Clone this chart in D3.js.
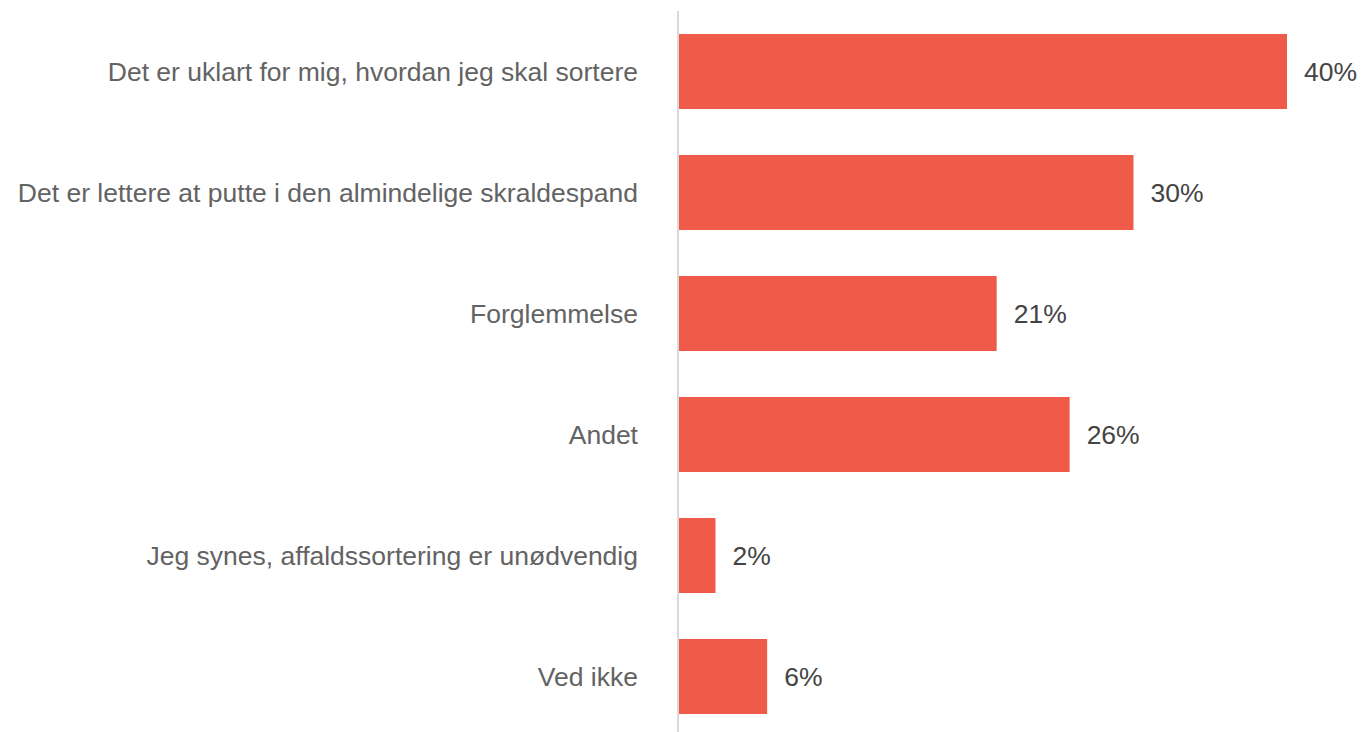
<!DOCTYPE html>
<html>
<head>
<meta charset="utf-8">
<script src="https://cdn.jsdelivr.net/npm/d3@7"></script>
<style>
  html, body { margin: 0; padding: 0; background: #ffffff; }
  svg { display: block; }
</style>
</head>
<body>
<svg id="chart" width="1362" height="732"></svg>
<script>
const categories = [
  "Det er uklart for mig, hvordan jeg skal sortere",
  "Det er lettere at putte i den almindelige skraldespand",
  "Forglemmelse",
  "Andet",
  "Jeg synes, affaldssortering er unødvendig",
  "Ved ikke"
];
const values = [40.0, 29.9, 20.9, 25.7, 2.4, 5.8];

const svg = d3.select("#chart");
const fontFamily = "Arial, 'Liberation Sans', sans-serif";

const x = d3.scaleLinear().domain([0, 40]).range([679, 1287]);
const y = d3.scaleBand().domain(categories).range([11, 737]).paddingInner(0.38).paddingOuter(0.19);

const data = categories.map((c, i) => ({ c, v: values[i] }));

svg.append("g").selectAll("rect").data(data).join("rect")
  .attr("x", x(0))
  .attr("y", d => y(d.c))
  .attr("width", d => x(d.v) - x(0))
  .attr("height", y.bandwidth())
  .attr("fill", "#EF5B48");

// vertical axis line
svg.append("line")
  .attr("x1", 678).attr("x2", 678)
  .attr("y1", 11).attr("y2", 732)
  .attr("stroke", "#d9d9d9").attr("stroke-width", 2);

// category labels
svg.append("g").selectAll("text").data(data).join("text")
  .attr("x", 638)
  .attr("y", d => y(d.c) + y.bandwidth() / 2)
  .attr("text-anchor", "end")
  .attr("dominant-baseline", "central")
  .attr("font-family", fontFamily)
  .attr("font-size", "26.5px")
  .attr("fill", "#636363")
  .text(d => d.c);

// value labels
svg.append("g").selectAll("text").data(data).join("text")
  .attr("x", d => x(d.v) + 17)
  .attr("y", d => y(d.c) + y.bandwidth() / 2)
  .attr("dominant-baseline", "central")
  .attr("font-family", fontFamily)
  .attr("font-size", "26.5px")
  .attr("fill", "#444444")
  .text(d => d3.format(".0f")(d.v) + "%");
</script>
</body>
</html>
